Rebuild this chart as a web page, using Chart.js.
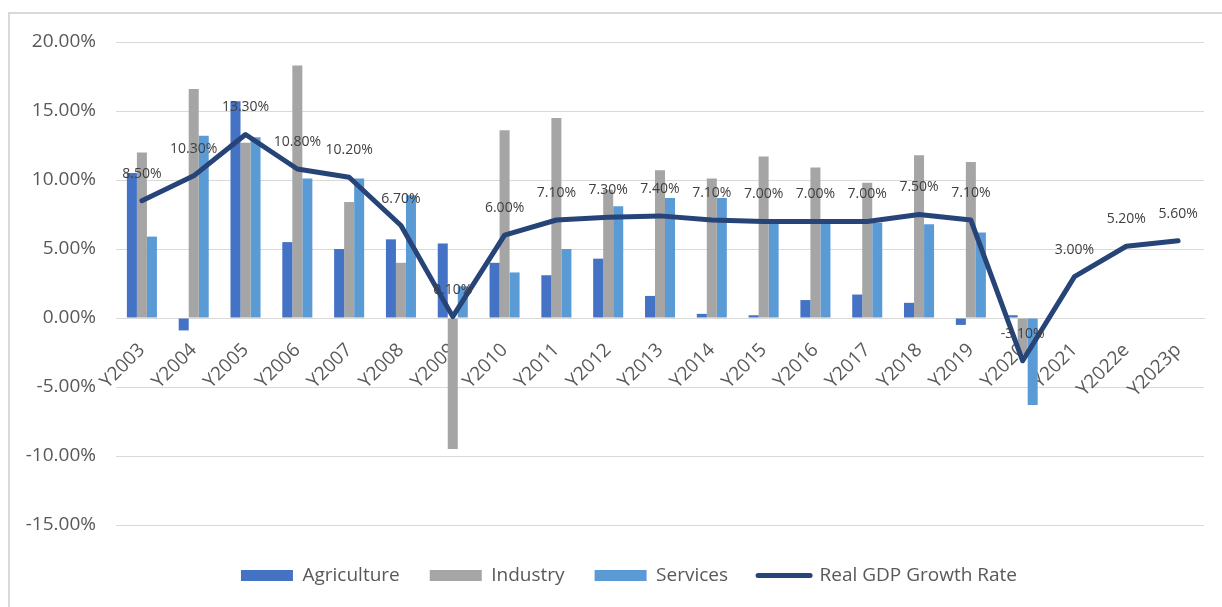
<!DOCTYPE html>
<html>
<head>
<meta charset="utf-8">
<title>Real GDP Growth by Sector</title>
<script src="https://cdn.jsdelivr.net/npm/chart.js@4.4.1/dist/chart.umd.min.js"></script>
<style>
  html, body { margin: 0; padding: 0; background: #fff; overflow: hidden; }
  .frame { position: absolute; left: 8px; top: 12px; width: 1300px; height: 700px; border: 2px solid #d9d9d9; box-sizing: border-box; }
  .chart-box { position: absolute; left: 0; top: 0; width: 1222px; height: 607px; }
</style>
</head>
<body>
<div class="frame"></div>
<div class="chart-box"><canvas id="gdpChart"></canvas></div>
<script>
const years = ["Y2003", "Y2004", "Y2005", "Y2006", "Y2007", "Y2008", "Y2009", "Y2010", "Y2011", "Y2012",
  "Y2013", "Y2014", "Y2015", "Y2016", "Y2017", "Y2018", "Y2019", "Y2020", "Y2021", "Y2022e", "Y2023p"];

// sector growth, % (no sector split for the last three years)
const agriculture = [10.5, -0.9, 15.7, 5.5, 5.0, 5.7, 5.4, 4.0, 3.1, 4.3,
  1.6, 0.3, 0.2, 1.3, 1.7, 1.1, -0.5, 0.2, null, null, null];
const industry = [12.0, 16.6, 12.7, 18.3, 8.4, 4.0, -9.5, 13.6, 14.5, 9.3,
  10.7, 10.1, 11.7, 10.9, 9.8, 11.8, 11.3, -2.6, null, null, null];
const services = [5.9, 13.2, 13.1, 10.1, 10.1, 8.9, 2.3, 3.3, 5.0, 8.1,
  8.7, 8.7, 6.9, 6.9, 6.9, 6.8, 6.2, -6.3, null, null, null];
const gdpGrowth = [8.5, 10.3, 13.3, 10.8, 10.2, 6.7, 0.1, 6.0, 7.1, 7.3,
  7.4, 7.1, 7.0, 7.0, 7.0, 7.5, 7.1, -3.1, 3.0, 5.2, 5.6];

const yTicks = [-15, -10, -5, 0, 5, 10, 15, 20];

const textColor = "#595959";
const fontFamily = "'Open Sans', 'Noto Sans', sans-serif";
Chart.defaults.font.family = fontFamily;
Chart.defaults.color = textColor;

// value labels above the GDP line
const lineValueLabels = {
  id: "lineValueLabels",
  afterDatasetsDraw(chart) {
    const meta = chart.getDatasetMeta(3);
    const ctx = chart.ctx;
    ctx.save();
    ctx.font = "14px " + fontFamily;
    ctx.fillStyle = "#404040";
    ctx.textAlign = "center";
    ctx.textBaseline = "middle";
    meta.data.forEach((pt, i) => {
      ctx.fillText(gdpGrowth[i].toFixed(2) + "%", pt.x, pt.y - 27);
    });
    ctx.restore();
  }
};

// the legend row sits a bit lower and to the right of where Chart.js puts it
const legendNudge = {
  id: "legendNudge",
  afterLayout(chart) {
    const lg = chart.legend;
    lg.top += 11;
    lg.bottom += 11;
    lg.left += 27;
    lg.right += 27;
  }
};

new Chart(document.getElementById("gdpChart"), {
  type: "bar",
  data: {
    labels: years,
    datasets: [
      { label: "Agriculture", data: agriculture, backgroundColor: "#4472c4", borderWidth: 0, order: 1 },
      { label: "Industry", data: industry, backgroundColor: "#a5a5a5", borderWidth: 0, order: 1 },
      { label: "Services", data: services, backgroundColor: "#5b9bd5", borderWidth: 0, order: 1 },
      {
        type: "line",
        label: "Real GDP Growth Rate",
        data: gdpGrowth,
        borderColor: "#264478",
        backgroundColor: "#264478",
        borderWidth: 5,
        borderJoinStyle: "round",
        borderCapStyle: "round",
        pointRadius: 0,
        tension: 0,
        fill: false,
        order: 0
      }
    ]
  },
  options: {
    responsive: true,
    maintainAspectRatio: false,
    animation: false,
    categoryPercentage: 0.58,
    barPercentage: 1,
    layout: { padding: { left: 0, right: 18, top: 42, bottom: 23 } },
    plugins: {
      tooltip: { enabled: false },
      legend: {
        position: "bottom",
        labels: {
          usePointStyle: true,
          pointStyleWidth: 52,
          boxHeight: 11,
          padding: 30,
          color: textColor,
          font: { size: 19 },
          generateLabels(chart) {
            return chart.data.datasets.map((ds, i) => {
              const isLine = ds.type === "line";
              return {
                text: ds.label,
                fillStyle: isLine ? "rgba(0,0,0,0)" : ds.backgroundColor,
                strokeStyle: isLine ? ds.borderColor : ds.backgroundColor,
                lineWidth: isLine ? 5 : 0,
                lineCap: "round",
                pointStyle: isLine ? "line" : "rect",
                fontColor: textColor,
                hidden: !chart.isDatasetVisible(i),
                datasetIndex: i
              };
            });
          }
        }
      }
    },
    scales: {
      x: {
        position: { y: 0 },
        offset: true,
        grid: { display: false, drawTicks: false },
        border: { color: "#d9d9d9", width: 1 },
        ticks: {
          autoSkip: false,
          minRotation: 45,
          maxRotation: 45,
          padding: 21,
          labelOffset: 0,
          color: textColor,
          font: { size: 19 }
        }
      },
      y: {
        min: yTicks[0],
        max: yTicks[yTicks.length - 1],
        afterBuildTicks(scale) {
          scale.ticks = yTicks.map((v) => ({ value: v }));
        },
        afterFit(scale) {
          scale.width = 116;
        },
        border: { display: false },
        grid: { color: "#d9d9d9", lineWidth: 1, drawTicks: false },
        ticks: {
          padding: 20,
          color: textColor,
          font: { size: 19 },
          callback(value) {
            return Number(value).toFixed(2) + "%";
          }
        }
      }
    }
  },
  plugins: [lineValueLabels, legendNudge]
});
</script>
</body>
</html>
